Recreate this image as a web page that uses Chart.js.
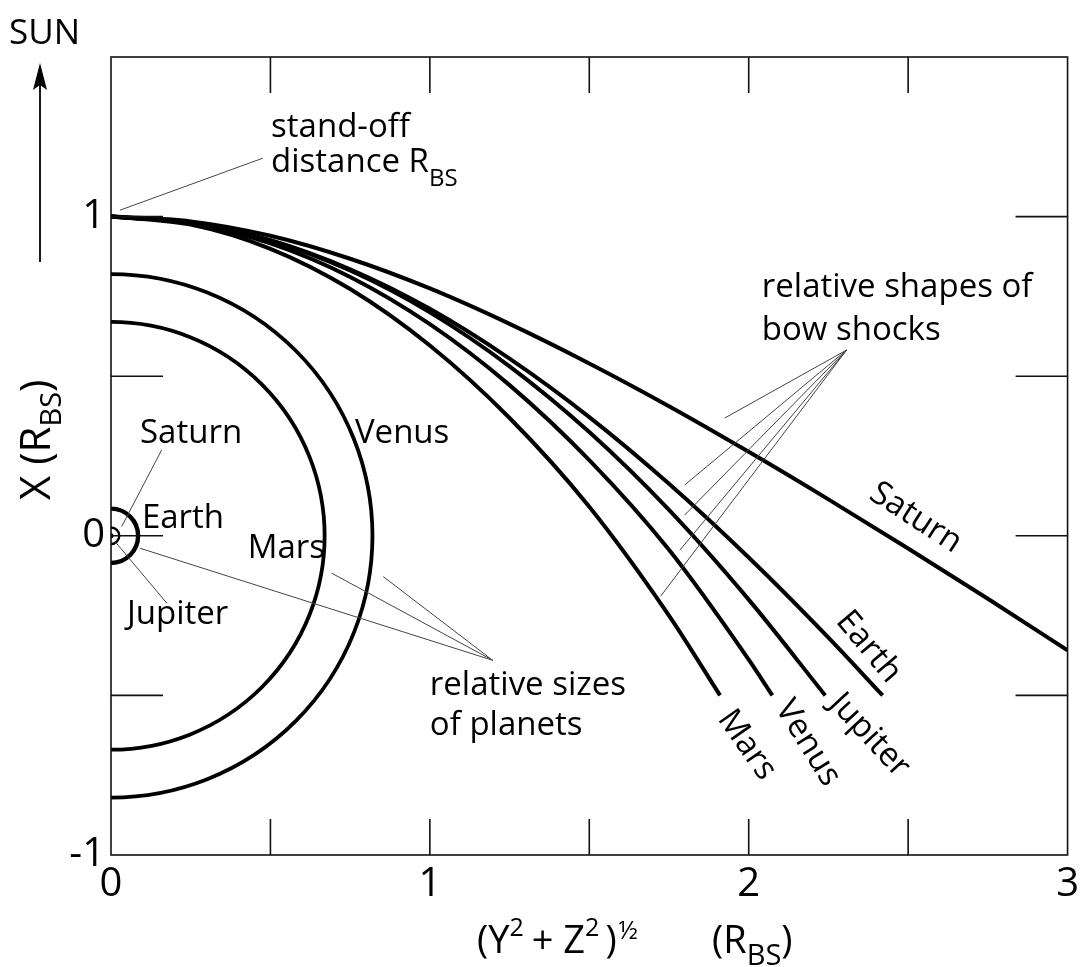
<!DOCTYPE html>
<html>
<head>
<meta charset="utf-8">
<script src="https://cdn.jsdelivr.net/npm/chart.js@4/dist/chart.umd.min.js"></script>
<style>
  html, body { margin: 0; padding: 0; background: #fff; }
  #wrap { width: 1085px; height: 967px; position: relative; }
</style>
</head>
<body>
<div id="wrap"><canvas id="c" width="1085" height="967"></canvas></div>
<script>
// Bow shock profiles, X (toward the Sun) against (Y²+Z²)^½, in units of the stand-off distance R_BS
const saturnR = [0, 0.25, 0.5, 0.75, 1.0, 1.25, 1.5, 1.75, 2.0, 2.25, 2.5, 2.75, 3.0];
const saturnX = [1, 0.985, 0.94, 0.868, 0.775, 0.664, 0.54, 0.406, 0.263, 0.114, -0.04, -0.197, -0.359];

const earthR = [0, 0.25, 0.5, 0.75, 1.0, 1.25, 1.5, 1.75, 2.0, 2.25, 2.42];
const earthX = [1, 0.981, 0.926, 0.835, 0.711, 0.555, 0.372, 0.163, -0.068, -0.319, -0.5];

const jupiterR = [0, 0.25, 0.5, 0.75, 1.0, 1.25, 1.5, 1.75, 2.0, 2.24];
const jupiterX = [1, 0.981, 0.925, 0.831, 0.70, 0.531, 0.325, 0.081, -0.2, -0.5];

const venusR = [0, 0.25, 0.5, 0.75, 1.0, 1.25, 1.5, 1.75, 2.0, 2.074];
const venusX = [1, 0.979, 0.916, 0.811, 0.663, 0.472, 0.237, -0.044, -0.388, -0.5];

const marsR = [0, 0.25, 0.5, 0.75, 1.0, 1.25, 1.5, 1.75, 1.91];
const marsX = [1, 0.975, 0.899, 0.773, 0.596, 0.369, 0.091, -0.25, -0.5];

// Planet sizes relative to their own stand-off distance (radius in R_BS)
const planetNames = ['Venus', 'Mars', 'Earth', 'Saturn', 'Jupiter'];
const planetRadii = [0.82, 0.67, 0.085, 0.026, 0.008];

// Axis ticks
const xTickValues = [0, 0.5, 1, 1.5, 2, 2.5, 3];
const yTickValues = [-1, -0.5, 0, 0.5, 1, 1.5];
const xTickLabels = ['0', '', '1', '', '2', '', '3'];
const yTickLabels = ['-1', '', '0', '', '1', ''];

const FONT = '"Open Sans", "DejaVu Sans", sans-serif';
const LABEL = 33;

function toPoints(rs, xs) { return rs.map((r, i) => ({ x: r, y: xs[i] })); }

const curveStyle = {
  showLine: true, pointRadius: 0, borderColor: '#000', borderWidth: 4,
  cubicInterpolationMode: 'monotone', fill: false
};

const shocks = [
  { label: 'Saturn', data: toPoints(saturnR, saturnX) },
  { label: 'Earth', data: toPoints(earthR, earthX) },
  { label: 'Jupiter', data: toPoints(jupiterR, jupiterX) },
  { label: 'Venus', data: toPoints(venusR, venusX) },
  { label: 'Mars', data: toPoints(marsR, marsX) }
].map(d => Object.assign({}, curveStyle, d));

// Draw a run of text pieces, each with its own size and baseline shift
function drawRuns(ctx, runs, x, y) {
  let cx = x;
  runs.forEach(r => {
    ctx.font = r.size + 'px ' + FONT;
    if (r.at !== undefined) cx = r.at;
    ctx.fillText(r.t, cx, y + (r.dy || 0));
    cx += ctx.measureText(r.t).width + (r.gap || 0);
  });
}

function leader(ctx, xs, ys, a, b) {
  ctx.beginPath();
  ctx.moveTo(xs.getPixelForValue(a[0]), ys.getPixelForValue(a[1]));
  ctx.lineTo(xs.getPixelForValue(b[0]), ys.getPixelForValue(b[1]));
  ctx.stroke();
}

const decor = {
  id: 'decor',
  afterDatasetsDraw(chart) {
    const ctx = chart.ctx;
    const xs = chart.scales.x, ys = chart.scales.y;
    const area = chart.chartArea;
    const px = v => xs.getPixelForValue(v), py = v => ys.getPixelForValue(v);

    ctx.save();
    // planets, cut by the Sun-line axis at (Y²+Z²)^½ = 0
    ctx.beginPath();
    ctx.rect(area.left, area.top, area.right - area.left, area.bottom - area.top);
    ctx.clip();
    const cx = px(0), cy = py(0);
    const widths = { Venus: 3.8, Mars: 3.8, Earth: 4.4, Saturn: 2.4 };
    planetNames.forEach((n, i) => {
      const rx = px(planetRadii[i]) - cx, ry = cy - py(planetRadii[i]);
      ctx.beginPath();
      ctx.strokeStyle = '#000';
      ctx.fillStyle = '#000';
      if (n === 'Jupiter') {
        ctx.ellipse(cx, cy, rx, ry, 0, 0, Math.PI * 2);
        ctx.fill();
      } else {
        ctx.lineWidth = widths[n];
        ctx.ellipse(cx, cy, rx, ry, 0, -Math.PI / 2, Math.PI / 2);
        ctx.stroke();
      }
    });
    ctx.restore();

    ctx.save();
    // frame
    ctx.strokeStyle = '#111';
    ctx.lineWidth = 1.6;
    ctx.strokeRect(area.left, area.top, area.right - area.left, area.bottom - area.top);
    // inward tick marks
    xTickValues.forEach(v => {
      if (v <= 0 || v >= 3) return;
      const x = px(v);
      ctx.beginPath();
      ctx.moveTo(x, area.top); ctx.lineTo(x, area.top + 36);
      ctx.moveTo(x, area.bottom); ctx.lineTo(x, area.bottom - 36);
      ctx.stroke();
    });
    yTickValues.forEach(v => {
      if (v <= -1 || v >= 1.5) return;
      const y = py(v);
      ctx.beginPath();
      ctx.moveTo(area.left, y); ctx.lineTo(area.left + 52, y);
      ctx.moveTo(area.right, y); ctx.lineTo(area.right - 52, y);
      ctx.stroke();
    });

    // leader lines
    ctx.strokeStyle = '#444';
    ctx.lineWidth = 1;
    leader(ctx, xs, ys, [0.028, 1.02], [0.476, 1.183]);
    const shapesHub = [2.307, 0.582];
    [[1.925, 0.369], [1.799, 0.159], [1.799, 0.065], [1.784, -0.045], [1.724, -0.189]]
      .forEach(e => leader(ctx, xs, ys, shapesHub, e));
    const sizesHub = [1.197, -0.39];
    [[0.091, -0.039], [0.692, -0.117], [0.854, -0.128]]
      .forEach(e => leader(ctx, xs, ys, sizesHub, e));
    leader(ctx, xs, ys, [0.159, 0.269], [0.0335, 0.029]);
    leader(ctx, xs, ys, [0.0125, -0.018], [0.175, -0.211]);

    // labels (left end, baseline)
    ctx.fillStyle = '#000';
    ctx.textBaseline = 'alphabetic';
    ctx.textAlign = 'left';
    const put = (t, d) => { ctx.font = LABEL + 'px ' + FONT; ctx.fillText(t, px(d[0]), py(d[1])); };
    put('stand-off', [0.502, 1.249]);
    drawRuns(ctx, [{ t: 'distance R', size: LABEL }, { t: 'BS', size: 24, dy: 14 }], px(0.502), py(1.14));
    put('relative shapes of', [2.041, 0.748]);
    put('bow shocks', [2.041, 0.613]);
    put('relative sizes', [1.0, -0.499]);
    put('of planets', [1.0, -0.624]);
    put('Saturn', [0.091, 0.291]);
    put('Earth', [0.097, 0.024]);
    put('Jupiter', [0.05, -0.276]);
    put('Mars', [0.429, -0.07]);
    put('Venus', [0.765, 0.291]);

    // names along the shock curves
    ctx.textAlign = 'center';
    ctx.textBaseline = 'middle';
    const rot = (t, d, deg) => {
      ctx.save();
      ctx.translate(px(d[0]), py(d[1]));
      ctx.rotate(deg * Math.PI / 180);
      ctx.font = LABEL + 'px ' + FONT;
      ctx.fillText(t, 0, 0);
      ctx.restore();
    };
    rot('Saturn', [2.524, 0.056], 33);
    rot('Earth', [2.376, -0.348], 50);
    rot('Jupiter', [2.379, -0.625], 47);
    rot('Venus', [2.185, -0.649], 58);
    rot('Mars', [1.994, -0.655], 55);

    // Sun direction arrow
    ctx.textAlign = 'left';
    ctx.textBaseline = 'alphabetic';
    ctx.font = '35px ' + FONT;
    ctx.fillText('SUN', 9, 44);
    ctx.strokeStyle = '#000';
    ctx.lineWidth = 1.8;
    ctx.beginPath(); ctx.moveTo(40, 262); ctx.lineTo(40, 80); ctx.stroke();
    ctx.beginPath();
    ctx.moveTo(40, 63); ctx.lineTo(47, 90); ctx.lineTo(40, 85); ctx.lineTo(33, 90); ctx.closePath();
    ctx.fill();

    // axis titles
    drawRuns(ctx, [
      { t: '(Y', size: 38 }, { t: '2', size: 25, dy: -17, gap: 8 }, { t: '+ Z', size: 38 },
      { t: '2', size: 25, dy: -17, gap: 6 }, { t: ')', size: 38, gap: 2 }, { t: '½', size: 25, dy: -14 },
      { t: '(R', size: 38, at: 712 }, { t: 'BS', size: 29, dy: 12 }, { t: ')', size: 38 }
    ], 477, 953);
    ctx.save();
    ctx.translate(50, 500);
    ctx.rotate(-Math.PI / 2);
    drawRuns(ctx, [{ t: 'X (R', size: 42 }, { t: 'BS', size: 29, dy: 11 }, { t: ')', size: 42 }], 0, 0);
    ctx.restore();
    ctx.restore();
  }
};

new Chart(document.getElementById('c'), {
  type: 'scatter',
  data: { datasets: shocks },
  options: {
    responsive: false,
    animation: false,
    devicePixelRatio: 1,
    layout: { padding: { top: 57, right: 17, left: 0, bottom: 0 } },
    plugins: { legend: { display: false }, tooltip: { enabled: false } },
    scales: {
      x: {
        type: 'linear', min: 0, max: 3,
        grid: { display: false, drawTicks: false },
        border: { display: false },
        afterFit: s => { s.height = 112; },
        afterBuildTicks: s => { s.ticks = xTickValues.map(v => ({ value: v })); },
        ticks: {
          autoSkip: false, maxRotation: 0, padding: 6, color: '#000',
          font: { family: FONT, size: 40 },
          callback: (v) => xTickLabels[xTickValues.indexOf(v)]
        }
      },
      y: {
        type: 'linear', min: -1, max: 1.5,
        grid: { display: false, drawTicks: false },
        border: { display: false },
        afterFit: s => { s.width = 111; },
        afterBuildTicks: s => { s.ticks = yTickValues.map(v => ({ value: v })); },
        ticks: {
          autoSkip: false, padding: 6, color: '#000',
          font: { family: FONT, size: 40 },
          callback: (v) => yTickLabels[yTickValues.indexOf(v)]
        }
      }
    }
  },
  plugins: [decor]
});
</script>
</body>
</html>
